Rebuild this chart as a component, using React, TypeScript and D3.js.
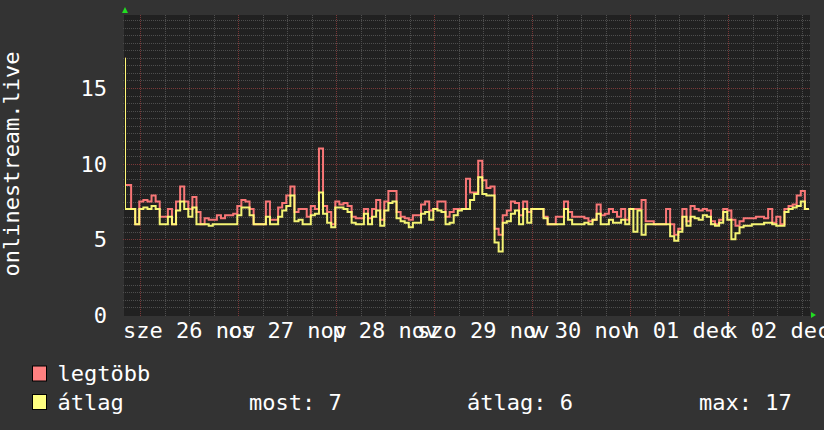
import React from "react";
import * as d3 from "d3";

// hourly values, starting 25 Nov 20:15
const legtobb = [
  17, 8.6, 7.0, 6.0, 7.5, 7.6, 7.5, 7.9, 7.5, 6.5, 6.5, 7.0, 6.0, 7.5, 8.5, 7.5, 7.0, 7.8, 6.8, 6.0,
  6.4, 6.3, 6.3, 6.6, 6.4, 6.6, 6.6, 6.7, 7.2, 7.6, 7.5, 7.0, 6.0, 6.0, 6.0, 7.5, 6.3, 6.3, 7.1, 7.4,
  7.9, 8.5, 6.8, 7.0, 7.0, 6.5, 7.2, 7.0, 11.0, 7.2, 6.8, 6.0, 7.5, 7.3, 7.4, 7.2, 6.5, 6.4,
  6.4, 7.0, 6.4, 7.0, 7.6, 6.3, 7.5, 8.2, 8.2, 6.8, 6.5, 6.4, 6.3, 6.6, 6.6, 7.3, 7.5, 6.9, 7.0, 7.5,
  7.5, 6.5, 6.8, 7.0, 7.0, 7.0, 9.0, 8.1, 8.1, 10.2, 8.9, 8.4, 8.5, 5.7, 5.3, 6.6, 6.9, 7.5, 7.4, 6.6,
  7.5, 6.8, 7.0, 7.0, 7.0, 6.5, 6.0, 6.0, 6.5, 6.5, 7.5, 6.8, 6.5, 6.5, 6.5, 6.4,
  6.2, 6.3, 7.3, 6.6, 6.7, 7.0, 6.8, 6.5, 7.0, 6.3, 7.0, 7.0, 7.0, 7.6, 6.2, 6.2, 6.0, 6.0, 6.0, 7.0,
  6.0, 5.3, 5.7, 7.0, 6.2, 7.2, 7.0, 6.9, 7.0, 6.9, 6.2, 6.0, 6.3, 7.0, 6.9, 6.3, 5.9, 6.2, 6.4, 6.4,
  6.4, 6.5, 6.5, 6.4, 7.0, 6.1, 6.5, 6.0, 7.0, 7.2, 7.3, 7.9, 8.2, 7.0,
];
const atlag = [
  17, 7.0, 7.0, 6.0, 7.0, 7.1, 7.0, 7.2, 7.0, 6.0, 6.0, 6.5, 6.0, 6.9, 7.5, 7.0, 6.5, 7.1, 6.0, 6.0,
  6.0, 5.9, 6.0, 6.0, 6.0, 6.0, 6.0, 6.0, 6.6, 7.1, 7.1, 6.6, 6.0, 6.0, 6.0, 6.5, 6.0, 6.0, 6.5, 6.9,
  7.2, 7.9, 6.2, 6.3, 6.0, 6.0, 6.6, 6.7, 8.1, 6.7, 6.1, 5.8, 7.1, 7.1, 7.0, 6.8, 6.1, 6.0,
  6.0, 6.7, 6.0, 6.5, 6.9, 5.9, 6.9, 7.4, 7.5, 6.4, 6.2, 6.1, 5.8, 6.1, 6.1, 6.7, 6.8, 6.3, 7.0, 6.9,
  6.8, 6.0, 6.1, 6.6, 6.9, 7.0, 7.0, 7.6, 8.0, 9.1, 8.0, 7.9, 7.9, 4.8, 4.2, 6.1, 6.2, 6.7, 6.9, 6.0,
  7.0, 6.1, 7.0, 7.0, 7.0, 6.4, 6.0, 6.0, 6.0, 6.0, 7.0, 6.3, 6.0, 6.0, 6.0, 6.1,
  6.0, 6.3, 6.7, 6.0, 6.0, 6.3, 6.1, 6.1, 6.3, 6.0, 7.0, 5.5, 6.9, 5.3, 6.0, 6.0, 6.0, 6.0, 6.0, 6.0,
  5.2, 4.9, 5.5, 6.5, 5.9, 6.5, 6.4, 6.3, 6.6, 6.5, 6.0, 5.9, 6.1, 6.8, 6.3, 5.0, 5.4, 5.8, 5.9, 5.9,
  6.0, 6.0, 6.0, 6.1, 6.1, 6.0, 5.9, 5.9, 6.8, 7.0, 7.1, 7.2, 7.5, 7.0,
];
const yTicks = [0, 5, 10, 15];
const dayLabels = ["sze 26 nov", "cs 27 nov", "p 28 nov", "szo 29 nov", "v 30 nov", "h 01 dec", "k 02 dec"];
const legendNames = ["legtöbb", "átlag"];
const legendStats = ["most: 7", "átlag: 6", "max: 17"];

const W = 824, H = 430;
const L = 125, R = 810, T = 15, B = 315;
const FONT = "DejaVu Sans Mono";
const RED = "#f87676";
const YEL = "#ffff78";

const HOUR = 3600 * 1000;
const start = Date.UTC(2025, 10, 25, 20, 15);
const end = start + 7 * 24 * HOUR;

export default function App() {
  const x = d3.scaleUtc().domain([start, end]).range([L, 811]);
  const y = d3.scaleLinear().domain([0, 300 / 15.13]).range([B, T]);

  const line = d3
    .line<number>()
    .x((_, i) => x(start + i * HOUR + (i > 0 ? 0.5 * HOUR : 0)))
    .y((d) => y(d))
    .curve(d3.curveStepBefore);

  const minorX = d3.utcHour.every(6)!.range(new Date(start), new Date(end));
  const majorX = d3.utcDay.range(new Date(start), new Date(end));
  const minorY = d3.range(0.5, 19.9, 0.5).filter((v) => v % 5 !== 0);
  const majorY = [5, 10, 15];

  return (
    <svg width={W} height={H} style={{ position: "absolute", left: 0, top: 0 }}>
      <rect x={0} y={0} width={W} height={H} fill="#333333" />
      <rect x={L - 1} y={T} width={R - L + 1} height={B - T + 1} fill="#212121" />
      <defs>
        <clipPath id="cv">
          <rect x={L} y={T - 60} width={R - L} height={B - T + 62} />
        </clipPath>
      </defs>
      {minorY.map((v) => (
        <line key={"my" + v} x1={L - 2} x2={R} y1={Math.round(y(v)) + 0.5} y2={Math.round(y(v)) + 0.5}
          stroke="#4e4e4e" strokeDasharray="1 1" />
      ))}
      {minorX.filter((d) => d.getUTCHours() !== 0).map((d) => (
        <line key={"mx" + +d} x1={Math.round(x(d)) + 0.5} x2={Math.round(x(d)) + 0.5} y1={T} y2={B + 2}
          stroke="#4e4e4e" strokeDasharray="1 1" />
      ))}
      {majorY.map((v) => (
        <line key={"My" + v} x1={L - 2} x2={R} y1={Math.round(y(v)) + 0.5} y2={Math.round(y(v)) + 0.5}
          stroke="#7a3838" strokeDasharray="1 1" />
      ))}
      {majorX.map((d) => (
        <line key={"Mx" + +d} x1={Math.round(x(d)) + 0.5} x2={Math.round(x(d)) + 0.5} y1={T} y2={B + 2}
          stroke="#7a3838" strokeDasharray="1 1" />
      ))}
      <g clipPath="url(#cv)">
        <path d={line(legtobb) ?? ""} fill="none" stroke={RED} strokeWidth={2} />
        <path d={line(atlag) ?? ""} fill="none" stroke={YEL} strokeWidth={2} strokeOpacity={0.95} />
      </g>
      {/* arrows */}
      <path d={`M${L - 3},${T - 2} L${L + 3},${T - 2} L${L},${T - 8} Z`} fill="#22dd22" />
      <path d={`M${R + 1},${B - 3} L${R + 1},${B + 3} L${R + 6},${B} Z`} fill="#22dd22" />
      {yTicks.map((v) => (
        <text key={"yl" + v} x={107} y={y(v) + 8} textAnchor="end" fill="#ffffff"
          fontFamily={FONT} fontSize={22}>{v}</text>
      ))}
      {dayLabels.map((s, i) => (
        <text key={"xl" + i} x={x(Date.UTC(2025, 10, 26 + i, 12))} y={338} textAnchor="middle"
          fill="#ffffff" fontFamily={FONT} fontSize={22}>{s}</text>
      ))}
      <text transform={`translate(18.5,164) rotate(-90)`} textAnchor="middle" fill="#ffffff"
        fontFamily={FONT} fontSize={22}>onlinestream.live</text>
      {legendNames.map((n, i) => (
        <g key={n}>
          <rect x={32.5} y={366 + i * 28.5} width={14} height={15} fill={i === 0 ? "#ff8080" : "#ffff80"}
            stroke="#000" strokeWidth={1} />
          <text x={57.5} y={381 + i * 28.5} fill="#ffffff" fontFamily={FONT} fontSize={22}>{n}</text>
        </g>
      ))}
      {legendStats.map((s, i) => (
        <text key={s} x={[249, 467, 699][i]} y={409.5} fill="#ffffff" fontFamily={FONT} fontSize={22}>{s}</text>
      ))}
    </svg>
  );
}
